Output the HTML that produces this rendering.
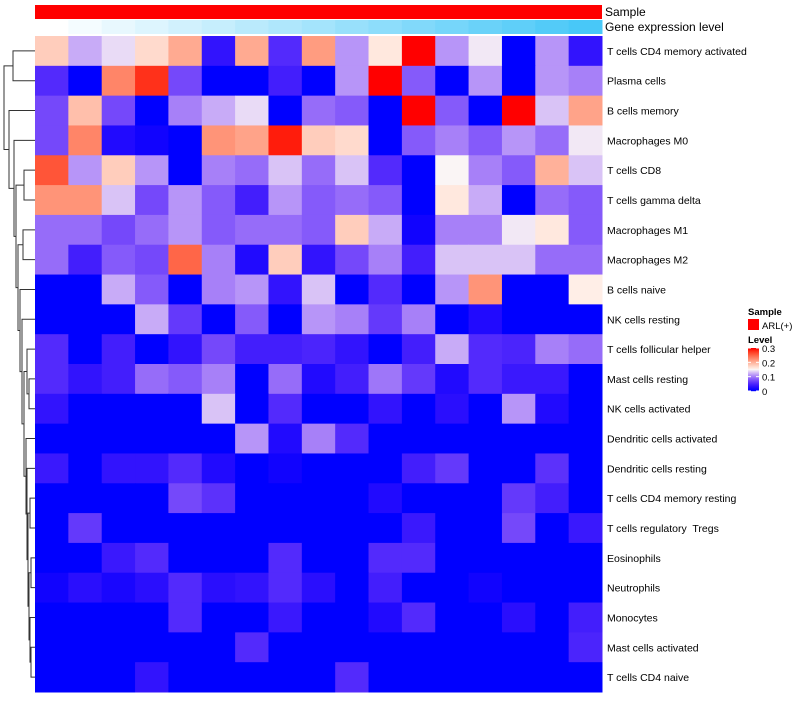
<!DOCTYPE html>
<html><head><meta charset="utf-8"><style>
body{margin:0;background:#fff;width:800px;height:700px;overflow:hidden;font-family:"Liberation Sans",sans-serif}
text{white-space:pre}
</style></head><body>
<svg id="chart" width="800" height="700" xmlns="http://www.w3.org/2000/svg" font-family="Liberation Sans, sans-serif"></svg>
<script>
const rowLabels=["T cells CD4 memory activated","Plasma cells","B cells memory","Macrophages M0","T cells CD8","T cells gamma delta","Macrophages M1","Macrophages M2","B cells naive","NK cells resting","T cells follicular helper","Mast cells resting","NK cells activated","Dendritic cells activated","Dendritic cells resting","T cells CD4 memory resting","T cells regulatory  Tregs","Eosinophils","Neutrophils","Monocytes","Mast cells activated","T cells CD4 naive"];
const geneLevel=[0,1,2,3,4,5,6,7,8,9,10,11,12,13,14,15,16];
const values=[
[0.18,0.12,0.14,0.17,0.205,0.03,0.205,0.05,0.215,0.11,0.16,0.30,0.11,0.145,0,0.11,0.03],
[0.05,0,0.23,0.28,0.07,0,0,0.04,0,0.11,0.30,0.08,0,0.11,0,0.11,0.10],
[0.07,0.19,0.07,0,0.10,0.12,0.14,0,0.09,0.08,0,0.30,0.08,0,0.30,0.13,0.21],
[0.07,0.23,0.02,0.01,0,0.22,0.21,0.29,0.18,0.17,0,0.08,0.10,0.08,0.11,0.09,0.145],
[0.26,0.11,0.18,0.11,0,0.10,0.09,0.13,0.09,0.13,0.05,0,0.15,0.10,0.08,0.20,0.13],
[0.22,0.22,0.13,0.07,0.11,0.08,0.04,0.11,0.08,0.09,0.08,0,0.16,0.12,0,0.09,0.08],
[0.09,0.09,0.07,0.09,0.11,0.08,0.09,0.09,0.08,0.18,0.12,0.01,0.10,0.10,0.145,0.16,0.08],
[0.09,0.04,0.08,0.07,0.25,0.10,0.02,0.18,0.03,0.07,0.10,0.04,0.13,0.13,0.13,0.09,0.09],
[0,0,0.12,0.08,0,0.10,0.11,0.03,0.13,0,0.05,0,0.11,0.22,0,0,0.155],
[0,0,0,0.12,0.06,0,0.08,0,0.11,0.10,0.06,0.10,0,0.02,0,0,0],
[0.05,0,0.04,0,0.03,0.07,0.04,0.04,0.045,0.03,0,0.04,0.12,0.05,0.045,0.10,0.09],
[0.05,0.03,0.04,0.09,0.08,0.10,0,0.09,0.02,0.04,0.095,0.06,0.02,0.05,0.035,0.035,0],
[0.03,0,0,0,0,0.13,0,0.05,0,0,0.03,0,0.025,0,0.11,0.02,0],
[0,0,0,0,0,0,0.11,0.02,0.10,0.05,0,0,0,0,0,0,0],
[0.035,0,0.03,0.03,0.05,0.02,0,0.01,0,0,0,0.04,0.06,0,0,0.055,0],
[0,0,0,0,0.07,0.055,0,0,0,0,0.02,0,0,0,0.06,0.04,0],
[0,0.06,0,0,0,0,0,0,0,0,0,0.035,0,0,0.07,0,0.035],
[0,0,0.035,0.05,0,0,0,0.05,0,0,0.05,0.05,0,0,0,0,0],
[0.01,0.025,0.015,0.025,0.05,0.025,0.03,0.05,0.025,0,0.04,0,0,0.01,0,0,0],
[0,0,0,0,0.05,0,0,0.035,0,0,0.02,0.05,0,0,0.025,0,0.04],
[0,0,0,0,0,0,0.05,0,0,0,0,0,0,0,0,0,0.045],
[0,0,0,0.03,0,0,0,0,0,0.05,0,0,0,0,0,0,0]];
const legendTicks=[0,0.1,0.2,0.3];

const NS="http://www.w3.org/2000/svg",svgEl=document.getElementById('chart');
function mk(tag,a,p){const el=document.createElementNS(NS,tag);for(const k in a)el.setAttribute(k,a[k]);(p||svgEl).appendChild(el);return el;}
const X0=35,X1=602,Y0=36,Y1=692;
const nC=values[0].length,nR=values.length,cw=(X1-X0)/nC,rh=(Y1-Y0)/nR;
const xPos=c=>X0+c*cw, yPos=r=>Y0+r*rh;
function col(v){v=Math.max(0,Math.min(0.3,v));
 if(v<=0.15){const f=v/0.15;return `rgb(${Math.round(250*f)},${Math.round(245*Math.pow(f,1.6))},${Math.round(255-10*f)})`;}
 const f=(v-0.15)/0.15;return `rgb(255,${Math.round(245*Math.pow(1-f,0.8))},${Math.round(240*Math.pow(1-f,1.1))})`;}
function blue(i){const f=geneLevel[i]/(geneLevel.length-1);return `rgb(${Math.round(255-183*f)},${Math.round(255-55*f)},${Math.round(255-7*f)})`;}
const sampleBar=mk('rect',{x:X0,y:5,width:X1-X0,height:14,fill:'#ff0000'});


geneLevel.forEach((gv,i)=>{const r=mk('rect',{x:xPos(i),y:20,width:cw+0.5,height:14,fill:blue(i)});
 
 });
let txt=mk('text',{x:605,y:16,'font-size':12});txt.textContent='Sample';


txt=mk('text',{x:605,y:31,'font-size':12});txt.textContent='Gene expression level';


values.forEach((row,r)=>row.forEach((v,c)=>{const cell=mk('rect',{x:xPos(c),y:yPos(r),width:cw+0.5,height:rh+0.5,fill:col(v)});
 
 }));
rowLabels.forEach((l,r)=>{const lab=mk('text',{x:607,y:yPos(r)+rh/2+4,'font-size':10.5});lab.textContent=l;
 
 });
const dendro=mk('g',{stroke:'#333','stroke-width':1,fill:'none'});


function leaf(i){return {x:35,y:yPos(i)+rh/2};}
function node(x,a,b){mk('path',{d:`M${a.x},${a.y}H${x}V${b.y}H${b.x}`},dendro);return {x:x,y:(a.y+b.y)/2};}
let lowerN=node(31,leaf(20),leaf(21));
lowerN=node(30,leaf(19),lowerN);
const l2=node(31,leaf(17),leaf(18));
lowerN=node(29,l2,lowerN);
const l3=node(30,leaf(15),leaf(16));
lowerN=node(28,l3,lowerN);
lowerN=node(27,leaf(14),lowerN);
lowerN=node(26,leaf(13),lowerN);
let l4=node(29,leaf(11),leaf(12));
l4=node(27,leaf(10),l4);
lowerN=node(24,l4,lowerN);
lowerN=node(22,leaf(9),lowerN);
lowerN=node(20,leaf(8),lowerN);
const mmN=node(23,leaf(6),leaf(7));
lowerN=node(18,mmN,lowerN);
const cd8N=node(24,leaf(4),leaf(5));
lowerN=node(16,cd8N,lowerN);
lowerN=node(14,leaf(3),lowerN);
lowerN=node(9,leaf(2),lowerN);
const topPair=node(13,leaf(0),leaf(1));
node(4,topPair,lowerN);
txt=mk('text',{x:748,y:315,'font-size':9.5,'font-weight':'bold'});txt.textContent='Sample';


const sw=mk('rect',{x:748,y:319,width:11,height:11,fill:'#ff0000'});


txt=mk('text',{x:762,y:329,'font-size':9.5});txt.textContent='ARL(+)';


txt=mk('text',{x:748,y:343,'font-size':9.5,'font-weight':'bold'});txt.textContent='Level';


const LY0=348,LY1=391;
for(let i=0;i<43;i++){const v=0.3*(1-i/42);mk('rect',{x:748,y:LY0+i,width:11,height:1.2,fill:col(v)});}
legendTicks.forEach(v=>{const y=LY1-(v/0.3)*(LY1-LY0);
 mk('line',{x1:748,x2:751,y1:y,y2:y,stroke:'#fff'});mk('line',{x1:756,x2:759,y1:y,y2:y,stroke:'#fff'});
 const tt=mk('text',{x:762,y:y+4,'font-size':9.5});tt.textContent=String(v);
 
 });
</script>
</body></html>
